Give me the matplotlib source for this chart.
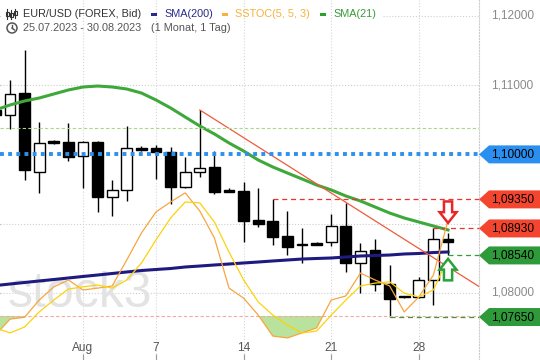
import numpy as np
import matplotlib
matplotlib.use("Agg")
import matplotlib.pyplot as plt
from matplotlib.patches import Polygon, Rectangle, Circle
from matplotlib.lines import Line2D
from matplotlib.transforms import blended_transform_factory

plt.rcParams['font.family'] = ['Liberation Sans', 'DejaVu Sans']

# daily bars (forex, incl. sunday bars)
dates = ["25.07", "26.07", "27.07", "28.07", "30.07", "31.07",
         "01.08", "02.08", "03.08", "04.08", "06.08", "07.08", "08.08", "09.08",
         "10.08", "11.08", "13.08", "14.08", "15.08", "16.08", "17.08", "18.08",
         "20.08", "21.08", "22.08", "23.08", "24.08", "25.08", "27.08", "28.08",
         "29.08", "30.08"]
opens = [1.10642, 1.10569, 1.10887, 1.09746, 1.10194, 1.10179,
         1.09977, 1.10179, 1.09384, 1.09486, 1.10092, 1.10092, 1.10035, 1.09529,
         1.09746, 1.09818, 1.09486, 1.09471, 1.09052, 1.09038, 1.08821, 1.08691,
         1.08720, 1.08734, 1.08965, 1.08431, 1.08618, 1.08127, 1.07939, 1.07939,
         1.08185, 1.08777]
highs = [1.10699, 1.11075, 1.11509, 1.10468, 1.10208, 1.10454,
         1.10194, 1.10194, 1.09630, 1.10410, 1.10121, 1.10136, 1.10107, 1.09962,
         1.10642, 1.10049, 1.09514, 1.09601, 1.09514, 1.09350, 1.09182, 1.08936,
         1.08734, 1.09139, 1.09298, 1.08720, 1.08777, 1.08402, 1.07946, 1.08228,
         1.08930, 1.08864]
lows = [1.10526, 1.10367, 1.09630, 1.09442, 1.10150, 1.09905,
        1.09514, 1.09168, 1.09110, 1.09327, 1.10049, 1.09645, 1.09283, 1.09514,
        1.09673, 1.09428, 1.09457, 1.08734, 1.08951, 1.08691, 1.08546, 1.08431,
        1.08691, 1.08676, 1.08301, 1.07997, 1.08026, 1.07650, 1.07932, 1.07932,
        1.07824, 1.08540]
closes = [1.10569, 1.10873, 1.09775, 1.10165, 1.10165, 1.09962,
          1.10179, 1.09384, 1.09486, 1.10092, 1.10064, 1.10035, 1.09529, 1.09746,
          1.09803, 1.09457, 1.09457, 1.09038, 1.08994, 1.08806, 1.08662, 1.08698,
          1.08691, 1.08965, 1.08431, 1.08604, 1.08127, 1.07910, 1.07939, 1.08185,
          1.08777, 1.08734]
sma21 = [1.10642, 1.10714, 1.10772, 1.10815, 1.10873, 1.10931,
         1.10974, 1.10988, 1.10974, 1.10945, 1.10887, 1.10786, 1.10671, 1.10540,
         1.10410, 1.10295, 1.10165, 1.10049, 1.09919, 1.09818, 1.09731, 1.09645,
         1.09558, 1.09486, 1.09399, 1.09327, 1.09240, 1.09153, 1.09081, 1.09023,
         1.08965, 1.08908]
sma200 = [1.08105, 1.08127, 1.08149, 1.08171, 1.08192, 1.08214,
          1.08236, 1.08257, 1.08279, 1.08301, 1.08322, 1.08337, 1.08351, 1.08373,
          1.08387, 1.08402, 1.08416, 1.08431, 1.08445, 1.08460, 1.08474, 1.08488,
          1.08496, 1.08503, 1.08517, 1.08532, 1.08539, 1.08546, 1.08561, 1.08568,
          1.08582, 1.08590]
sstoc_k = [13.9, 19.0, 19.6, 25.1, 29.3, 31.5,
           28.3, 28.9, 29.6, 37.9, 46.5, 53.2, 56.4, 59.3,
           53.5, 44.9, 28.9, 25.7, 20.3, 13.6, 13.0, 14.6,
           16.2, 25.1, 26.4, 33.7, 31.5, 29.6, 21.3, 26.1,
           33.1, 50.6]
sstoc_d = [16.2, 14.6, 16.5, 21.3, 25.1, 28.6,
           29.3, 29.9, 28.9, 31.5, 36.9, 44.3, 51.3, 56.4,
           56.1, 50.0, 40.4, 31.5, 24.5, 20.3, 17.1, 14.6,
           15.2, 20.3, 25.1, 29.6, 30.5, 30.9, 27.3, 26.1,
           28.3, 38.5]

tick_dates = ["01.08", "07.08", "14.08", "21.08", "28.08"]
tick_labels = ["Aug", "7", "14", "21", "28"]
price_ticks = [1.08, 1.09, 1.10, 1.11, 1.12]

trend_x = [14, 33.2]
trend_y = [1.10642, 1.0808]

marker_level = 1.1000
res_levels = [1.0935, 1.0893]
res_from = ["16.08", "29.08"]
sup_levels = [1.0854, 1.0765]
sup_from = ["30.08", "25.08"]

x = np.arange(len(dates))
pos = {d: i for i, d in enumerate(dates)}

fig = plt.figure(figsize=(5.4, 3.6), dpi=100)
ax = fig.add_axes([0, 0, 479 / 540, 1])
ax.set_xlim(0.315, 33.12)
ax.set_ylim(1.070289, 1.122312)
for s in ['top', 'left', 'bottom']:
    ax.spines[s].set_visible(False)
ax.spines['right'].set_color('#cccccc')
ax.spines['right'].set_linestyle(':')
ax.set_xticks([pos[d] for d in tick_dates])
ax.set_xticklabels([])
ax.tick_params(axis='x', direction='in', length=4, color='#999999')
ax.yaxis.tick_right()
ax.set_yticks(price_ticks)
ax.set_yticklabels([])
ax.tick_params(axis='y', direction='out', length=3, color='#999999')

# grid
for p in price_ticks:
    if p == 1.12:
        ax.axhline(p, xmin=0.8, color='#cfcfcf', lw=0.8, ls=':', zorder=0.4)
    elif p != 1.10:
        ax.axhline(p, color='#cfcfcf', lw=0.8, ls=':', zorder=0.4)
for d in tick_dates:
    ax.axvline(pos[d], color='#d5d5e0', lw=0.8, ls=':', zorder=0.4)

# watermark
ax.text(0.015, 0.148, "stock3", transform=ax.transAxes, fontsize=36,
        color='#e3e3e3', ha='left', va='baseline', zorder=0.5)

# candles
w = 0.74
for i in x:
    o, h, l, c = opens[i], highs[i], lows[i], closes[i]
    ax.vlines(i, l, h, color='black', lw=1.0, zorder=2)
    bottom = min(o, c)
    height = max(abs(c - o), 0.0001)
    fc = 'white' if c > o else 'black'
    ax.add_patch(Rectangle((i - w / 2, bottom), w, height, facecolor=fc,
                           edgecolor='black', lw=1.0, zorder=3))

# indicators
ax.plot(x, sma200, color='#1e1a80', lw=2.2, zorder=4)
ax.plot(x, sma21, color='#3ea83a', lw=2.2, zorder=4)
ax.plot(trend_x, trend_y, color='#f05a3c', lw=0.9, zorder=4)

ax.axhline(marker_level, color='#2d8ff0', lw=2.8, dashes=(1, 1.1), zorder=4)
for lev, d in zip(res_levels, res_from):
    ax.plot([pos[d], 40], [lev, lev], color='#f0302a', lw=0.9, dashes=(4, 3), zorder=4)
for lev, d in zip(sup_levels, sup_from):
    ax.plot([pos[d], 40], [lev, lev], color='#2e9e3a', lw=0.9, dashes=(4, 3), zorder=4)

# oscillator on its own scale
ax2 = ax.twinx()
ax2.set_ylim(5.96, 120.85)
ax2.axis('off')
ax2.axhline(80, color='#a6d98a', lw=0.8, dashes=(3, 2))
ax2.axhline(20, color='#f5a8a0', lw=0.8, dashes=(3, 2))
k = np.array(sstoc_k)
ax2.fill_between(x, k, 20, where=k < 20, interpolate=True, color='#b9e29c', lw=0)
ax2.plot(x, sstoc_k, color='#f6a640', lw=0.9)
ax2.plot(x, sstoc_d, color='#fbd30c', lw=0.9)

# signal arrows around the last bar
last = len(dates) - 1
aw, sw = 0.58, 0.28
hp = 0.0031
r_tip = res_levels[1] + 0.0008
red_arrow = [(last - sw, r_tip + hp), (last + sw, r_tip + hp), (last + sw, r_tip + hp * 0.5),
             (last + aw, r_tip + hp * 0.5), (last, r_tip), (last - aw, r_tip + hp * 0.5),
             (last - sw, r_tip + hp * 0.5)]
g_tip = sup_levels[0] - 0.0005
green_arrow = [(last - sw, g_tip - hp), (last + sw, g_tip - hp), (last + sw, g_tip - hp * 0.5),
               (last + aw, g_tip - hp * 0.5), (last, g_tip), (last - aw, g_tip - hp * 0.5),
               (last - sw, g_tip - hp * 0.5)]
ax2.add_patch(Polygon(red_arrow, closed=True, facecolor='white', edgecolor='#e8262a',
                      lw=1.8, transform=ax.transData, zorder=6))
ax2.add_patch(Polygon(green_arrow, closed=True, facecolor='white', edgecolor='#27a33a',
                      lw=1.8, transform=ax.transData, zorder=6))

# x labels inside the bottom
bt = blended_transform_factory(ax.transData, ax.transAxes)
for d, lab in zip(tick_dates, tick_labels):
    ax.text(pos[d], 0.033, lab, transform=bt, ha='center', va='center',
            fontsize=8.6, color='#555555')

# right price labels and tags
rt = blended_transform_factory(fig.transFigure, ax.transData)
tags = [(marker_level, '#2b8ff0'), (res_levels[0], '#f4452f'), (res_levels[1], '#f4452f'),
        (sup_levels[0], '#2e9a3a'), (sup_levels[1], '#2e9a3a')]
hh = 0.0013
for p in price_ticks:
    if any(abs(p - lev) < 2.2 * hh for lev, _ in tags):
        continue  # hidden behind a tag
    ax.text(491 / 540, p, ("%.5f" % p).replace('.', ','), transform=rt, ha='left',
            va='center', fontsize=8.6, color='#8a8a8a', clip_on=False)

for lev, col in tags:
    verts = [(479 / 540, lev), (489 / 540, lev + hh), (1.0, lev + hh),
             (1.0, lev - hh), (489 / 540, lev - hh)]
    ax.add_patch(Polygon(verts, closed=True, facecolor=col, edgecolor='none',
                         transform=rt, clip_on=False, zorder=10))
    ax.text(491 / 540, lev, ("%.5f" % lev).replace('.', ','), transform=rt, ha='left',
            va='center', fontsize=8.6, color='black', clip_on=False, zorder=11)

# header / legend
def px(xp, yp):
    return (xp / 100, (360 - yp) / 100)

it = fig.dpi_scale_trans
for cx, y0, y1, b0, b1 in [(7, 9, 19, 12, 16), (11, 10, 19, 13, 17), (15, 9, 18, 11, 15)]:
    fig.add_artist(Line2D([px(cx, y0)[0], px(cx, y1)[0]], [px(cx, y0)[1], px(cx, y1)[1]],
                          transform=it, color='#333333', lw=0.8))
    fig.add_artist(Rectangle(px(cx - 1.5, b1), 0.03, (b1 - b0) / 100, transform=it,
                             facecolor='white', edgecolor='#333333', lw=0.8))
fig.add_artist(Circle(px(12, 28), 0.05, transform=it, facecolor='none',
                      edgecolor='#555555', lw=1.1))
fig.add_artist(Line2D([px(12, 28)[0], px(12, 25)[0]], [px(12, 28)[1], px(12, 25)[1]],
                      transform=it, color='#555555', lw=1.0))
fig.add_artist(Line2D([px(12, 28)[0], px(14.5, 30)[0]], [px(12, 28)[1], px(14.5, 30)[1]],
                      transform=it, color='#555555', lw=1.0))

def label(xp, yp, s, col):
    fig.text(xp / 540, 1 - yp / 360, s, ha='left', va='center', fontsize=7.8, color=col)

def dash(xp, yp, col):
    fig.add_artist(Rectangle(px(xp, yp + 1.5), 0.06, 0.03, transform=it,
                             facecolor=col, edgecolor='none'))

label(23, 14, "EUR/USD (FOREX, Bid)", '#333333')
dash(151, 14, '#2a2a8c')
label(164, 14, "SMA(200)", '#2a2a8c')
dash(222, 14, '#f7b23b')
label(235, 14, "SSTOC(5, 5, 3)", '#f7b23b')
dash(320, 14, '#2e9e2e')
label(333, 14, "SMA(21)", '#3a9a3a')
label(23, 28, "25.07.2023 - 30.08.2023", '#555555')
label(151, 28, "(1 Monat, 1 Tag)", '#555555')

fig.savefig("out.png", dpi=100)
